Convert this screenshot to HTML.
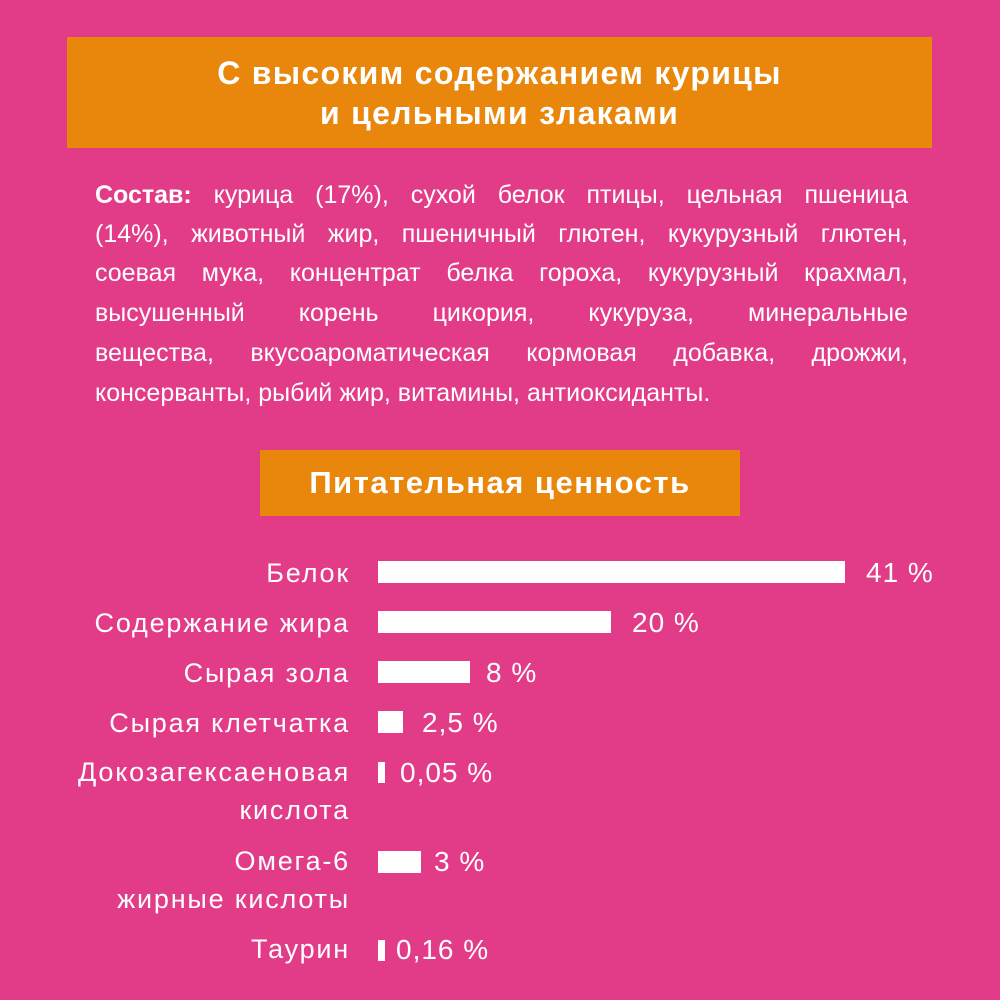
<!DOCTYPE html>
<html><head><meta charset="utf-8"><style>
*{margin:0;padding:0}
body{width:1000px;height:1000px;background:#E23C89;position:relative;overflow:hidden;font-family:"Liberation Sans","DejaVu Sans",sans-serif;color:#fff}
.box{position:absolute;background:#E8870B;text-align:center;font-weight:bold}
.l{position:absolute;right:650px;text-align:right;font-size:27px;letter-spacing:1.8px;line-height:40px;white-space:nowrap}
.bar{position:absolute;left:378px;background:#fff}
.v{position:absolute;font-size:28px;letter-spacing:1px;line-height:30px;white-space:nowrap}
.p{position:absolute;left:95px;width:813px;font-size:25px;text-align:justify;text-align-last:justify;white-space:nowrap;line-height:30px}
</style></head><body>
<div class="box" style="left:67px;top:37px;width:865px;height:111px;font-size:32px;letter-spacing:1.3px;line-height:40px;padding-top:16px;box-sizing:border-box">С высоким содержанием курицы<br>и цельными злаками</div>
<div class="p" style="top:180px"><b>Состав:</b> курица (17%), сухой белок птицы, цельная пшеница</div>
<div class="p" style="top:219px">(14%), животный жир, пшеничный глютен, кукурузный глютен,</div>
<div class="p" style="top:258px">соевая мука, концентрат белка гороха, кукурузный крахмал,</div>
<div class="p" style="top:298px">высушенный корень цикория, кукуруза, минеральные</div>
<div class="p" style="top:338px">вещества, вкусоароматическая кормовая добавка, дрожжи,</div>
<div class="p" style="top:378px;text-align-last:left;width:auto">консерванты, рыбий жир, витамины, антиоксиданты.</div>
<div class="box" style="left:260px;top:450px;width:480px;height:66px;font-size:31px;letter-spacing:1.5px;line-height:66px">Питательная ценность</div>

<div class="l" style="top:553px">Белок</div>
<div class="bar" style="top:561px;width:467px;height:22px"></div>
<div class="v" style="left:866px;top:558px">41 %</div>

<div class="l" style="top:603px">Содержание жира</div>
<div class="bar" style="top:611px;width:233px;height:22px"></div>
<div class="v" style="left:632px;top:608px">20 %</div>

<div class="l" style="top:653px">Сырая зола</div>
<div class="bar" style="top:661px;width:92px;height:22px"></div>
<div class="v" style="left:486px;top:658px">8 %</div>

<div class="l" style="top:703px">Сырая клетчатка</div>
<div class="bar" style="top:711px;width:25px;height:22px"></div>
<div class="v" style="left:422px;top:708px">2,5 %</div>

<div class="l" style="top:753px;line-height:38px">Докозагексаеновая<br>кислота</div>
<div class="bar" style="top:762px;width:7px;height:21px"></div>
<div class="v" style="left:400px;top:758px">0,05 %</div>

<div class="l" style="top:842px;line-height:38px">Омега-6<br>жирные кислоты</div>
<div class="bar" style="top:851px;width:43px;height:22px"></div>
<div class="v" style="left:434px;top:847px">3 %</div>

<div class="l" style="top:929px">Таурин</div>
<div class="bar" style="top:940px;width:7px;height:21px"></div>
<div class="v" style="left:396px;top:935px">0,16 %</div>
</body></html>
